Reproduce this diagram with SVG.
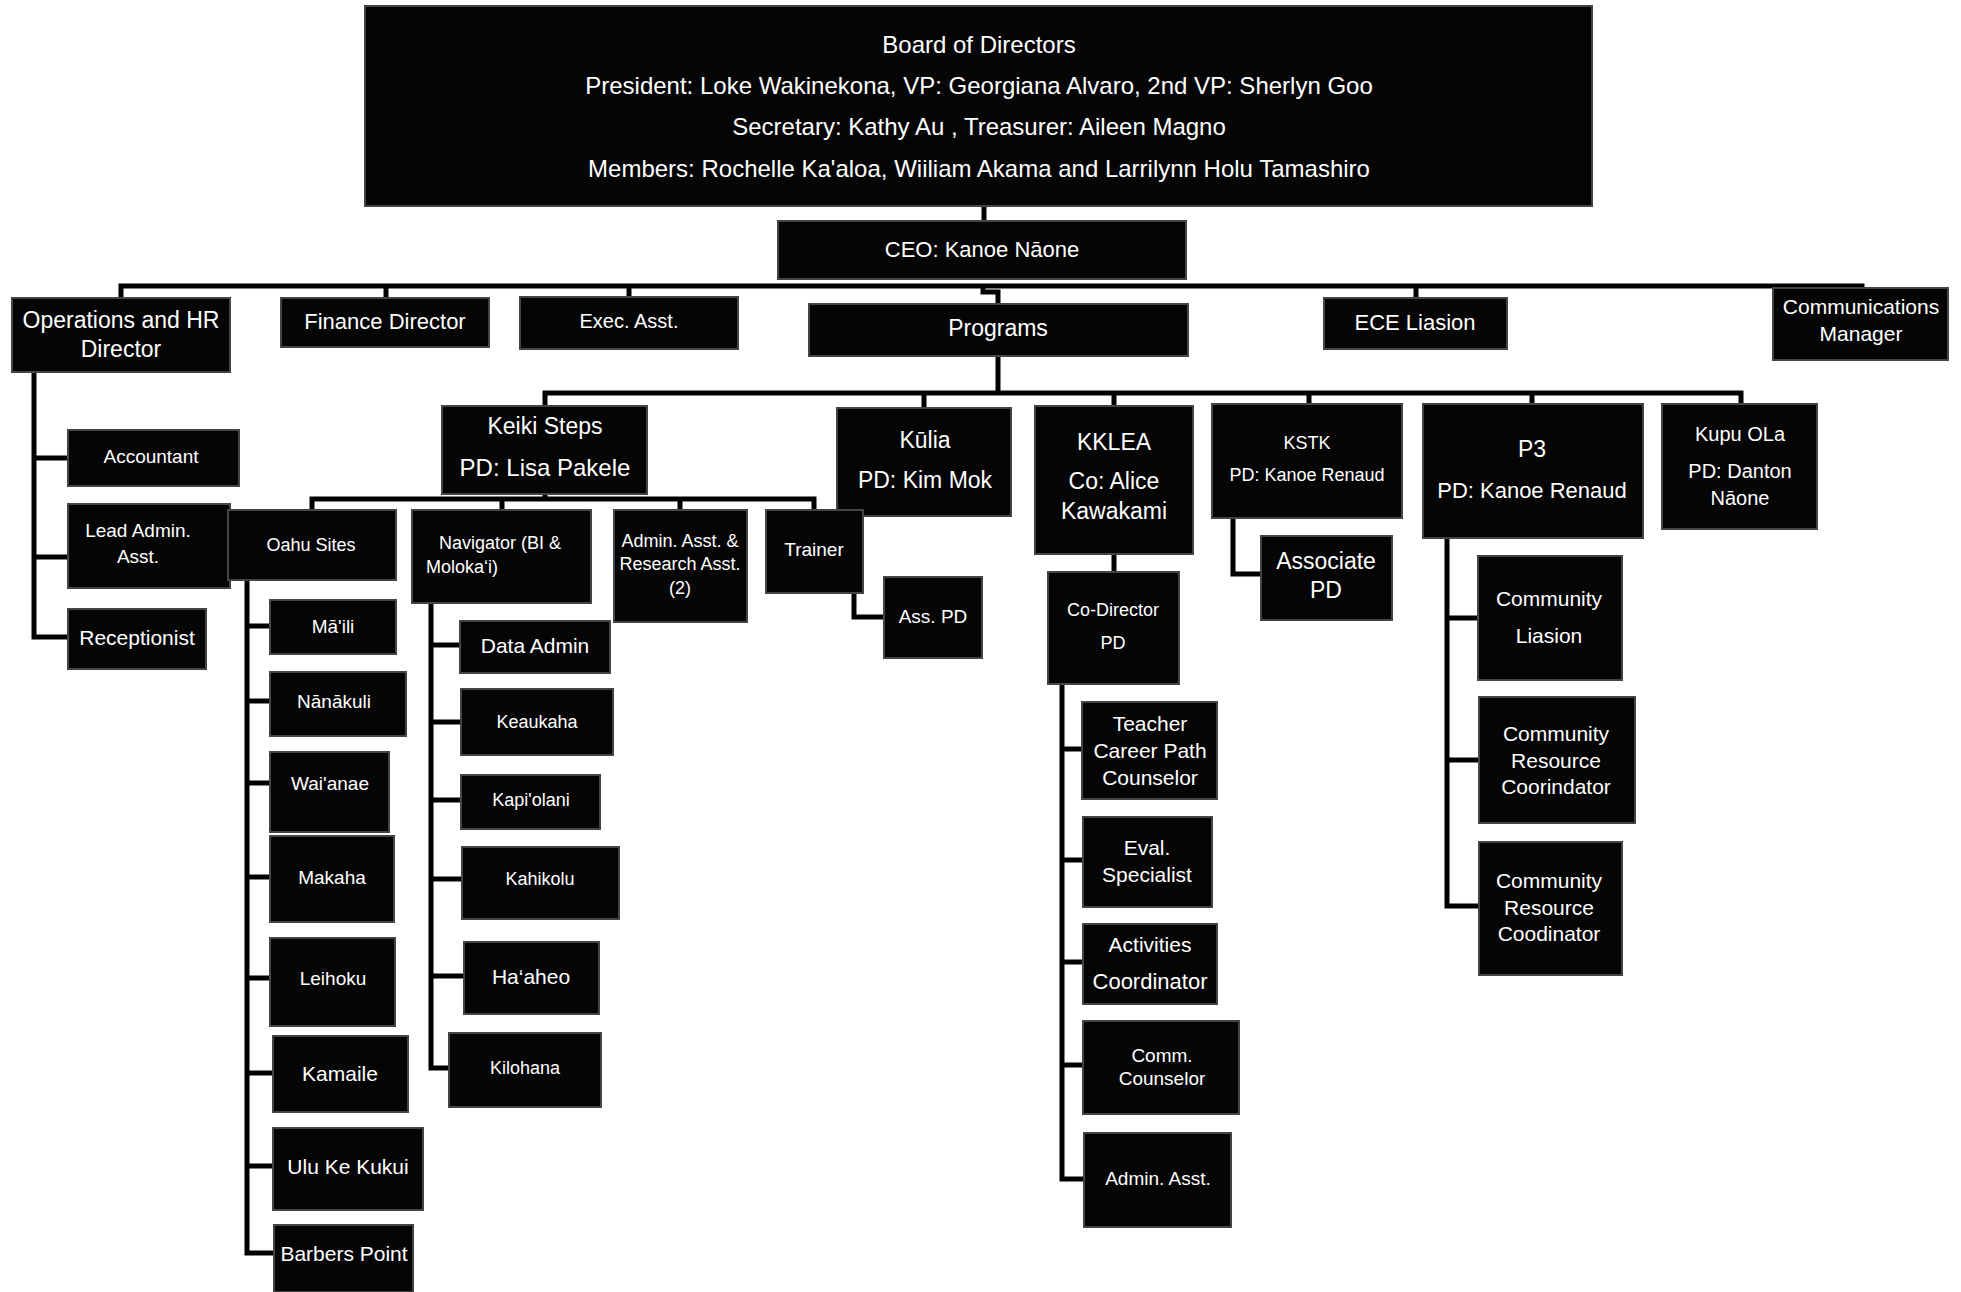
<svg xmlns="http://www.w3.org/2000/svg" width="1961" height="1292" viewBox="0 0 1961 1292">
<style>
.bg{fill:#ffffff}
.box{fill:#050505;stroke:#444;stroke-width:2}
.t{fill:#ffffff;font-family:"Liberation Sans",Arial,sans-serif;text-anchor:middle;dominant-baseline:central}
.s24{font-size:24px}.s23{font-size:23px}.s22{font-size:22px}.s21{font-size:21px}.s20{font-size:20px}.s19{font-size:19px}.s18{font-size:18px}
.c{fill:none;stroke:#000;stroke-width:5;stroke-linecap:square;stroke-linejoin:miter}
</style>
<rect class="bg" x="0" y="0" width="1961" height="1292"/>
<g id="connectors">
<path class="c" d="M984 206V221"/>
<path class="c" d="M121 286H1862M121 286V298M386 286V298M629 286V297M983 286V292H998V304M1416 286V298M1862 286V290"/>
<path class="c" d="M998 356V393M545 393H1741M545 393V406M924 393V408M1114 393V406M1309 393V404M1532 393V404M1741 393V404"/>
<path class="c" d="M545 494V499M312 499H814M312 499V510M502 499V510M680 499V510M814 499V510"/>
<path class="c" d="M854 593V617H884"/>
<path class="c" d="M1114 554V572"/>
<path class="c" d="M1233 518V574H1261"/>
<path class="c" d="M1447 538V906H1479M1447 618H1478M1447 760H1479"/>
<path class="c" d="M1062 684V1179H1084M1062 749H1082M1062 860H1083M1062 962H1083M1062 1065H1083"/>
<path class="c" d="M34 372V637H68M34 458H68M34 557H68"/>
<path class="c" d="M247 580V1253H274M247 626H270M247 701H270M247 783H270M247 877H270M247 978H270M247 1073H273M247 1166H273"/>
<path class="c" d="M431 603V1068H449M431 645H460M431 722H461M431 800H461M431 879H462M431 976H464"/>
</g>
<g id="board"><rect class="box" x="365" y="6" width="1227" height="200"/>
<text class="t s24" x="979" y="44">Board of Directors</text>
<text class="t s24" x="979" y="85">President: Loke Wakinekona, VP: Georgiana Alvaro, 2nd VP: Sherlyn Goo</text>
<text class="t s24" x="979" y="126">Secretary: Kathy Au , Treasurer: Aileen Magno</text>
<text class="t s24" x="979" y="168">Members: Rochelle Ka'aloa, Wiiliam Akama and Larrilynn Holu Tamashiro</text></g>
<g id="ceo"><rect class="box" x="778" y="221" width="408" height="58"/><text class="t s22" x="982" y="249">CEO: Kanoe Nāone</text></g>
<g id="ops"><rect class="box" x="12" y="298" width="218" height="74"/><text class="t s23" x="121" y="320">Operations and HR</text><text class="t s23" x="121" y="349">Director</text></g>
<g id="finance"><rect class="box" x="281" y="298" width="208" height="49"/><text class="t s22" x="385" y="321">Finance Director</text></g>
<g id="exec"><rect class="box" x="520" y="297" width="218" height="52"/><text class="t s20" x="629" y="321">Exec. Asst.</text></g>
<g id="programs"><rect class="box" x="809" y="304" width="379" height="52"/><text class="t s23" x="998" y="328">Programs</text></g>
<g id="ece"><rect class="box" x="1324" y="298" width="183" height="51"/><text class="t s22" x="1415" y="322">ECE Liasion</text></g>
<g id="comm"><rect class="box" x="1773" y="288" width="175" height="72"/><text class="t s21" x="1861" y="306">Communications</text><text class="t s21" x="1861" y="333">Manager</text></g>
<g id="accountant"><rect class="box" x="68" y="430" width="171" height="56"/><text class="t s19" x="151" y="456">Accountant</text></g>
<g id="leadadmin"><rect class="box" x="68" y="504" width="162" height="84"/><text class="t s19" x="138" y="530">Lead Admin.</text><text class="t s19" x="138" y="556">Asst.</text></g>
<g id="receptionist"><rect class="box" x="68" y="609" width="138" height="60"/><text class="t s21" x="137" y="637">Receptionist</text></g>
<g id="keiki"><rect class="box" x="442" y="406" width="205" height="88"/><text class="t s23" x="545" y="426">Keiki Steps</text><text class="t s24" x="545" y="467">PD: Lisa Pakele</text></g>
<g id="kulia"><rect class="box" x="837" y="408" width="174" height="108"/><text class="t s23" x="925" y="440">Kūlia</text><text class="t s23" x="925" y="480">PD: Kim Mok</text></g>
<g id="kklea"><rect class="box" x="1035" y="406" width="158" height="148"/><text class="t s23" x="1114" y="442">KKLEA</text><text class="t s23" x="1114" y="481">Co: Alice</text><text class="t s23" x="1114" y="511">Kawakami</text></g>
<g id="kstk"><rect class="box" x="1212" y="404" width="190" height="114"/><text class="t s18" x="1307" y="443">KSTK</text><text class="t s18" x="1307" y="475">PD: Kanoe Renaud</text></g>
<g id="p3"><rect class="box" x="1423" y="404" width="220" height="134"/><text class="t s23" x="1532" y="449">P3</text><text class="t s22" x="1532" y="490">PD: Kanoe Renaud</text></g>
<g id="kupu"><rect class="box" x="1662" y="404" width="155" height="125"/><text class="t s20" x="1740" y="434">Kupu OLa</text><text class="t s20" x="1740" y="471">PD: Danton</text><text class="t s20" x="1740" y="498">Nāone</text></g>
<g id="oahu"><rect class="box" x="228" y="510" width="168" height="70"/><text class="t s18" x="311" y="545">Oahu Sites</text></g>
<g id="navigator"><rect class="box" x="412" y="510" width="179" height="93"/><text class="t s18" x="500" y="543">Navigator (BI &amp;</text><text class="t s18" x="426" y="567" style="text-anchor:start">Moloka‘i)</text></g>
<g id="adminres"><rect class="box" x="614" y="510" width="133" height="112"/><text class="t s18" x="680" y="541">Admin. Asst. &amp;</text><text class="t s18" x="680" y="564">Research Asst.</text><text class="t s18" x="680" y="588">(2)</text></g>
<g id="trainer"><rect class="box" x="766" y="510" width="97" height="83"/><text class="t s19" x="814" y="549">Trainer</text></g>
<g id="asspd"><rect class="box" x="884" y="577" width="98" height="81"/><text class="t s19" x="933" y="616">Ass. PD</text></g>
<g id="codirector"><rect class="box" x="1048" y="572" width="131" height="112"/><text class="t s18" x="1113" y="610">Co-Director</text><text class="t s18" x="1113" y="643">PD</text></g>
<g id="associatepd"><rect class="box" x="1261" y="536" width="131" height="84"/><text class="t s23" x="1326" y="561">Associate</text><text class="t s23" x="1326" y="590">PD</text></g>
<g id="commliasion"><rect class="box" x="1478" y="556" width="144" height="124"/><text class="t s21" x="1549" y="598">Community</text><text class="t s21" x="1549" y="635">Liasion</text></g>
<g id="crc1"><rect class="box" x="1479" y="697" width="156" height="126"/><text class="t s21" x="1556" y="733">Community</text><text class="t s21" x="1556" y="760">Resource</text><text class="t s21" x="1556" y="786">Coorindator</text></g>
<g id="crc2"><rect class="box" x="1479" y="842" width="143" height="133"/><text class="t s21" x="1549" y="880">Community</text><text class="t s21" x="1549" y="907">Resource</text><text class="t s21" x="1549" y="933">Coodinator</text></g>
<g id="teacher"><rect class="box" x="1082" y="702" width="135" height="97"/><text class="t s21" x="1150" y="723">Teacher</text><text class="t s21" x="1150" y="750">Career Path</text><text class="t s21" x="1150" y="777">Counselor</text></g>
<g id="eval"><rect class="box" x="1083" y="817" width="129" height="90"/><text class="t s21" x="1147" y="847">Eval.</text><text class="t s21" x="1147" y="874">Specialist</text></g>
<g id="activities"><rect class="box" x="1083" y="924" width="134" height="80"/><text class="t s21" x="1150" y="944">Activities</text><text class="t s22" x="1150" y="981">Coordinator</text></g>
<g id="commcounselor"><rect class="box" x="1083" y="1021" width="156" height="93"/><text class="t s19" x="1162" y="1055">Comm.</text><text class="t s19" x="1162" y="1078">Counselor</text></g>
<g id="adminasst"><rect class="box" x="1084" y="1133" width="147" height="94"/><text class="t s19" x="1158" y="1178">Admin. Asst.</text></g>
<g id="maili"><rect class="box" x="270" y="600" width="126" height="54"/><text class="t s19" x="333" y="626">Mā'ili</text></g>
<g id="nanakuli"><rect class="box" x="270" y="672" width="136" height="64"/><text class="t s19" x="334" y="701">Nānākuli</text></g>
<g id="waianae"><rect class="box" x="270" y="752" width="119" height="80"/><text class="t s19" x="330" y="783">Wai'anae</text></g>
<g id="makaha"><rect class="box" x="270" y="836" width="124" height="86"/><text class="t s19" x="332" y="877">Makaha</text></g>
<g id="leihoku"><rect class="box" x="270" y="938" width="125" height="88"/><text class="t s19" x="333" y="978">Leihoku</text></g>
<g id="kamaile"><rect class="box" x="273" y="1036" width="135" height="76"/><text class="t s21" x="340" y="1073">Kamaile</text></g>
<g id="ulu"><rect class="box" x="273" y="1128" width="150" height="82"/><text class="t s21" x="348" y="1166">Ulu Ke Kukui</text></g>
<g id="barbers"><rect class="box" x="274" y="1225" width="139" height="67"/><text class="t s21" x="344" y="1253">Barbers Point</text></g>
<g id="dataadmin"><rect class="box" x="460" y="621" width="150" height="52"/><text class="t s21" x="535" y="645">Data Admin</text></g>
<g id="keaukaha"><rect class="box" x="461" y="689" width="152" height="66"/><text class="t s18" x="537" y="722">Keaukaha</text></g>
<g id="kapiolani"><rect class="box" x="461" y="775" width="139" height="54"/><text class="t s18" x="531" y="800">Kapi'olani</text></g>
<g id="kahikolu"><rect class="box" x="462" y="847" width="157" height="72"/><text class="t s18" x="540" y="879">Kahikolu</text></g>
<g id="haaheo"><rect class="box" x="464" y="942" width="135" height="72"/><text class="t s21" x="531" y="976">Ha‘aheo</text></g>
<g id="kilohana"><rect class="box" x="449" y="1033" width="152" height="74"/><text class="t s18" x="525" y="1068">Kilohana</text></g>
</svg>
